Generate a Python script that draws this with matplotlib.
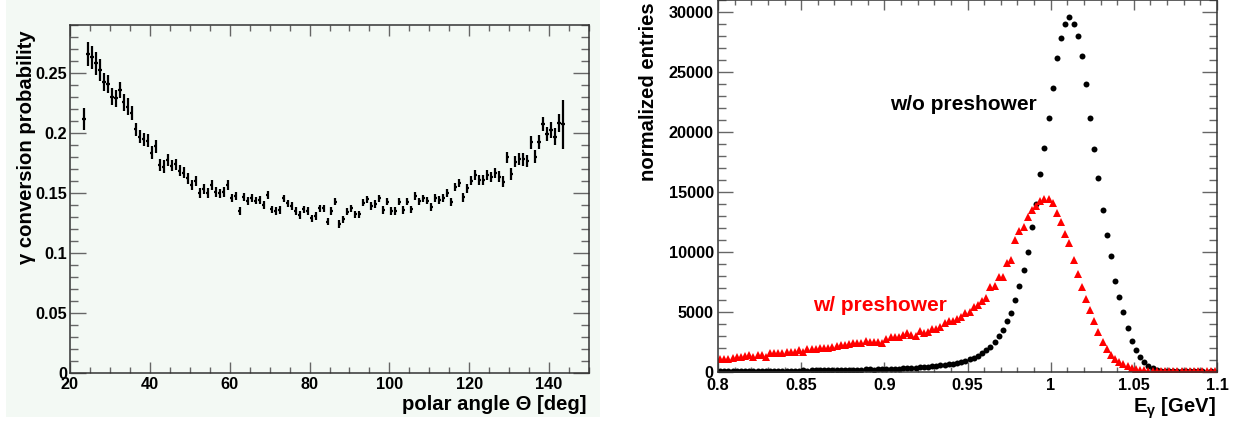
import numpy as np
import matplotlib
matplotlib.use('Agg')
import matplotlib.pyplot as plt
from matplotlib.ticker import MultipleLocator, FuncFormatter
from matplotlib.patches import Rectangle

plt.rcParams['font.family'] = ['Liberation Sans', 'DejaVu Sans']
plt.rcParams['mathtext.default'] = 'regular'

# ---------------- left panel data: conversion probability vs polar angle
theta_first = 23.5     # centre of first 1-degree bin
theta_width = 1.0
conv_prob = [
    0.2117, 0.2658, 0.2630, 0.2580, 0.2525, 0.2428, 0.2406, 0.2303, 0.2290, 0.2358,
    0.2256, 0.2220, 0.2164, 0.2030, 0.1970, 0.1947, 0.1936, 0.1836, 0.1890, 0.1733,
    0.1720, 0.1775, 0.1728, 0.1740, 0.1686, 0.1670, 0.1622, 0.1567, 0.1600, 0.1497,
    0.1530, 0.1497, 0.1564, 0.1510, 0.1497, 0.1506, 0.1567, 0.1456, 0.1475, 0.1350,
    0.1464, 0.1436, 0.1456, 0.1436, 0.1442, 0.1400, 0.1483, 0.1364, 0.1350, 0.1358,
    0.1456, 0.1414, 0.1392, 0.1350, 0.1317, 0.1364, 0.1350, 0.1289, 0.1308, 0.1372,
    0.1372, 0.1261, 0.1350, 0.1428, 0.1242, 0.1281, 0.1344, 0.1372, 0.1322, 0.1322,
    0.1419, 0.1447, 0.1392, 0.1408, 0.1456, 0.1358, 0.1428, 0.1350, 0.1350, 0.1428,
    0.1358, 0.1428, 0.1364, 0.1476, 0.1430, 0.1456, 0.1436, 0.1381, 0.1456, 0.1442,
    0.1456, 0.1497, 0.1428, 0.1547, 0.1580, 0.1464, 0.1539, 0.1603, 0.1650, 0.1608,
    0.1608, 0.1650, 0.1630, 0.1669, 0.1636, 0.1594, 0.1797, 0.1658, 0.1761, 0.1781,
    0.1781, 0.1767, 0.1922, 0.1803, 0.1928, 0.2075, 0.1992, 0.2025, 0.1970, 0.2081,
    0.2072,
]
conv_err = [
    0.0095, 0.0100, 0.0097, 0.0095, 0.0093, 0.0075, 0.0075, 0.0072, 0.0072, 0.0070,
    0.0070, 0.0068, 0.0058, 0.0056, 0.0056, 0.0055, 0.0055, 0.0054, 0.0054, 0.0052,
    0.0052, 0.0050, 0.0045, 0.0045, 0.0044, 0.0044, 0.0043, 0.0043, 0.0042, 0.0042,
    0.0042, 0.0041, 0.0041, 0.0040, 0.0040, 0.0040, 0.0040, 0.0033, 0.0033, 0.0033,
    0.0032, 0.0032, 0.0032, 0.0031, 0.0031, 0.0031, 0.0030, 0.0030, 0.0030, 0.0030,
    0.0030, 0.0030, 0.0030, 0.0030, 0.0030, 0.0030, 0.0030, 0.0030, 0.0030, 0.0030,
    0.0030, 0.0030, 0.0030, 0.0030, 0.0030, 0.0030, 0.0030, 0.0030, 0.0030, 0.0030,
    0.0030, 0.0030, 0.0030, 0.0030, 0.0030, 0.0030, 0.0030, 0.0030, 0.0030, 0.0030,
    0.0030, 0.0030, 0.0030, 0.0031, 0.0031, 0.0031, 0.0031, 0.0032, 0.0032, 0.0032,
    0.0033, 0.0033, 0.0033, 0.0034, 0.0034, 0.0035, 0.0036, 0.0037, 0.0038, 0.0039,
    0.0040, 0.0041, 0.0042, 0.0043, 0.0044, 0.0045, 0.0046, 0.0047, 0.0048, 0.0050,
    0.0052, 0.0053, 0.0055, 0.0057, 0.0059, 0.0060, 0.0062, 0.0065, 0.0068, 0.0074,
    0.0205,
]
left_xticks = [20, 40, 60, 80, 100, 120, 140]
left_yticks = [0, 0.05, 0.1, 0.15, 0.2, 0.25]

# ---------------- right panel data: photon energy spectra
e_first = 0.80125      # centre of first 2.5-MeV bin
e_width = 0.0025
entries_wo = [
    90, 80, 100, 90, 80, 90, 100, 80, 90, 100,
    110, 100, 90, 110, 100, 120, 110, 100, 120, 110,
    130, 120, 140, 130, 150, 140, 160, 150, 170, 160,
    180, 190, 170, 200, 190, 210, 220, 200, 230, 240,
    260, 250, 280, 290, 300, 320, 340, 360, 390, 420,
    440, 470, 500, 560, 610, 640, 690, 750, 830, 940,
    1060, 1190, 1360, 1560, 1830, 2110, 2470, 3000, 3500, 4220,
    4940, 6000, 7190, 8500, 9970, 12060, 14000, 16470, 18670, 21170,
    23640, 26140, 27800, 28970, 29600, 29030, 28000, 26360, 24030, 21170,
    18560, 16170, 13500, 11390, 9670, 7580, 6280, 4970, 3640, 2580,
    1860, 1250, 860, 530, 310, 180, 120, 90, 80, 70,
    70, 60, 60, 50, 60, 50, 50, 40, 50, 40,
]
entries_w = [
    1055, 1070, 1070, 1139, 1278, 1278, 1330, 1417, 1278, 1390,
    1417, 1278, 1611, 1555, 1611, 1611, 1667, 1667, 1667, 1833,
    1667, 1889, 1889, 1944, 2028, 2028, 2028, 2111, 2170, 2222,
    2222, 2333, 2444, 2390, 2390, 2611, 2500, 2528, 2470, 2444,
    2722, 2944, 2944, 2944, 3055, 3222, 3110, 3000, 3444, 3280,
    3300, 3583, 3583, 3722, 4055, 4222, 4222, 4444, 4611, 4889,
    5040, 5389, 5611, 5950, 6190, 7060, 7170, 7890, 7940, 9110,
    9330, 11000, 11780, 12060, 12920, 13530, 13830, 14250, 14390, 14390,
    14060, 13220, 12470, 11470, 10720, 9300, 8170, 7060, 6080, 5140,
    4250, 3330, 2530, 1920, 1440, 1110, 810, 670, 530, 360,
    220, 160, 130, 110, 100, 100, 90, 100, 90, 100,
    90, 100, 90, 90, 100, 90, 100, 90, 100, 90,
]
right_xticks = [0.8, 0.85, 0.9, 0.95, 1.0, 1.05, 1.1]
right_yticks = [0, 5000, 10000, 15000, 20000, 25000, 30000]

theta = theta_first + theta_width * np.arange(len(conv_prob))
energy = e_first + e_width * np.arange(len(entries_wo))

# ---------------- figure
W, H = 1242, 423
MINT = '#f3f9f4'
fig = plt.figure(figsize=(W / 100, H / 100), dpi=100)
fig.patches.append(Rectangle((6 / W, 6 / H), (600 - 6) / W, 1 - 6 / H,
                             transform=fig.transFigure, facecolor=MINT,
                             edgecolor='none', zorder=-10))

fmt = FuncFormatter(lambda v, p: '%g' % round(v, 6))
SPINE_C = '#333333'
TICK_C = '#666666'


def style_axes(ax):
    for s in ax.spines.values():
        s.set_color(SPINE_C)
        s.set_linewidth(1.1)
    ax.tick_params(which='both', direction='in', top=True, right=True,
                   colors=TICK_C, width=1.0)
    ax.tick_params(which='both', labelcolor='black')
    for lab in ax.get_xticklabels() + ax.get_yticklabels():
        lab.set_fontweight('bold')
        lab.set_fontsize(11.7)


# ---- left
ax1 = fig.add_axes([70 / W, 1 - 373 / H, 519 / W, 348 / H])
ax1.set_facecolor(MINT)
ax1.errorbar(theta, conv_prob, yerr=conv_err, xerr=0.4, fmt='none',
             ecolor='black', elinewidth=1.6, capsize=0)
ax1.set_xlim(20, 150)
ax1.set_ylim(0, 0.29)
ax1.set_xticks(left_xticks)
ax1.set_yticks(left_yticks)
ax1.xaxis.set_minor_locator(MultipleLocator(5))
ax1.yaxis.set_minor_locator(MultipleLocator(0.01))
ax1.xaxis.set_major_formatter(fmt)
ax1.yaxis.set_major_formatter(fmt)
style_axes(ax1)
ax1.xaxis.set_tick_params(which='major', length=8, pad=3)
ax1.xaxis.set_tick_params(which='minor', length=4.3)
ax1.yaxis.set_tick_params(which='major', length=11.5, pad=2)
ax1.yaxis.set_tick_params(which='minor', length=5.8)

fig.text(27 / W, 1 - 30 / H, 'γ conversion probability', rotation=90,
         ha='center', va='top', fontsize=14.6, fontweight='bold')
fig.text(587 / W, 1 - 404 / H, 'polar angle Θ [deg]', ha='right',
         va='center', fontsize=14.6, fontweight='bold')

# ---- right
ax2 = fig.add_axes([718 / W, 1 - 372 / H, 499 / W, 372 / H])
ax2.plot(energy, entries_wo, 'o', color='black', ms=4.3, mew=0)
ax2.plot(energy, entries_w, '^', color='#ff0000', ms=5.2, mew=0)
ax2.set_xlim(0.8, 1.1)
ax2.set_ylim(0, 31000)
ax2.set_xticks(right_xticks)
ax2.set_yticks(right_yticks)
ax2.xaxis.set_minor_locator(MultipleLocator(0.01))
ax2.yaxis.set_minor_locator(MultipleLocator(1000))
ax2.xaxis.set_major_formatter(fmt)
ax2.yaxis.set_major_formatter(fmt)
style_axes(ax2)
ax2.xaxis.set_tick_params(which='major', length=7, pad=4)
ax2.xaxis.set_tick_params(which='minor', length=3.6)
ax2.yaxis.set_tick_params(which='major', length=10.8, pad=3)
ax2.yaxis.set_tick_params(which='minor', length=5.8)

ax2.text(0.9034, 22333, 'w/o preshower', ha='left', va='center',
         fontsize=15, fontweight='bold', color='black')
ax2.text(0.8569, 5583, 'w/ preshower', ha='left', va='center',
         fontsize=15, fontweight='bold', color='#ff0000')

fig.text(648 / W, 1 - 2 / H, 'normalized entries', rotation=90,
         ha='center', va='top', fontsize=14.6, fontweight='bold')
fig.text(1216 / W, 1 - 408 / H, r'E$_{\gamma}$ [GeV]', ha='right',
         va='center', fontsize=14.6, fontweight='bold')

fig.savefig('out.png', dpi=100)
